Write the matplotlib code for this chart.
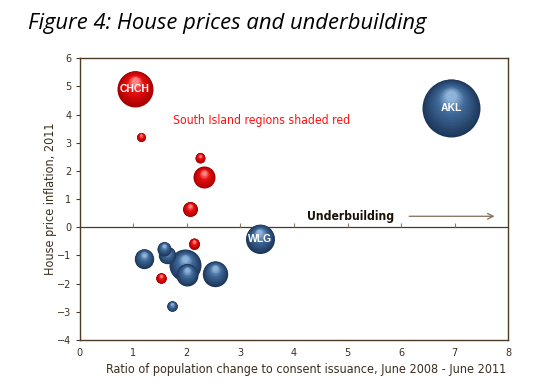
import numpy as np
import matplotlib
matplotlib.use('Agg')
import matplotlib.pyplot as plt
from matplotlib.colors import to_rgb
from matplotlib.transforms import ScaledTranslation

# === Data ===
# ratio of population change to consent issuance, house price inflation, bubble size (area)
north_x = [6.94, 3.36, 1.97, 2.53, 2.00, 1.20, 1.63, 1.58, 1.72]
north_y = [4.24, -0.40, -1.35, -1.64, -1.68, -1.11, -0.99, -0.76, -2.80]
north_size = [841, 210, 256, 161, 121, 94, 76, 49, 28]
north_label = ['AKL', 'WLG', '', '', '', '', '', '', '']

south_x = [1.03, 2.32, 2.06, 2.14, 1.51, 2.25, 1.14]
south_y = [4.92, 1.77, 0.65, -0.58, -1.80, 2.47, 3.20]
south_size = [324, 121, 56, 30, 28, 25, 20]
south_label = ['CHCH', '', '', '', '', '', '']

x_ticks = [0, 1, 2, 3, 4, 5, 6, 7, 8]
y_ticks = [-4, -3, -2, -1, 0, 1, 2, 3, 4, 5, 6]

AXIS_COL = '#4d3b26'
TEXT_COL = '#3a2e1e'
NARROW = dict(family='DejaVu Sans', stretch='condensed')

fig = plt.figure(figsize=(5.5, 3.9), dpi=100)
ax = fig.add_axes([0.145, 0.128, 0.779, 0.723])


def blend(c1, c2, t):
    a, b = np.array(to_rgb(c1)), np.array(to_rgb(c2))
    return tuple(a + (b - a) * t)


def sphere(ax, x, y, r_px, edge, mid, light, z):
    """Fake 3D bubble: stacked circles shrinking toward an upper highlight."""
    n = 22
    for i in range(n):
        t = i / (n - 1)
        rr = r_px * (1 - 0.82 * t)
        off = r_px * 0.42 * t
        if t < 0.65:
            c = blend(edge, mid, t / 0.65)
        else:
            c = blend(mid, light, (t - 0.65) / 0.35)
        tr = ax.transData + ScaledTranslation(-0.04 * off / fig.dpi, off / fig.dpi,
                                              fig.dpi_scale_trans)
        s = (2 * rr * 72 / fig.dpi) ** 2
        ax.scatter([x], [y], s=s, color=c, linewidths=0, transform=tr,
                   zorder=z + i * 0.001)


z = 3
for xs, ys, ss, lab, cols in [
    (north_x, north_y, north_size, north_label, ('#1d375a', '#416b9b', '#8fb2d8')),
    (south_x, south_y, south_size, south_label, ('#a80000', '#ea1010', '#ff8585')),
]:
    for x, y, s, name in zip(xs, ys, ss, lab):
        sphere(ax, x, y, np.sqrt(s), *cols, z)
        if name:
            ax.text(x, y, name, color='white', fontsize=7.5, fontweight='bold',
                    family='Liberation Sans', ha='center', va='center',
                    zorder=z + 0.5)
        z += 1

# zero line with upward tick marks (Excel style crossing axis)
ax.axhline(0, color=AXIS_COL, lw=0.9, zorder=2)
ax.plot(x_ticks[1:-1], [0] * (len(x_ticks) - 2), ls='none', marker=2,
        ms=3, color='#8a7a66', mew=0.8, zorder=2)

ax.set_xlim(0, 8)
ax.set_ylim(-4, 6)
ax.set_xticks(x_ticks)
ax.set_yticks(y_ticks)
ax.tick_params(axis='x', length=0, labelsize=7, colors=TEXT_COL, pad=6)
ax.tick_params(axis='y', length=3, width=0.8, labelsize=7, colors=TEXT_COL,
               color=AXIS_COL, pad=3)
for sp in ax.spines.values():
    sp.set_color(AXIS_COL)
    sp.set_linewidth(1)

ax.set_xlabel('Ratio of population change to consent issuance, June 2008 - June 2011',
              fontsize=9, color=TEXT_COL, **NARROW)
ax.xaxis.set_label_coords(0.528, -0.08)
ax.set_ylabel('House price inflation, 2011', fontsize=9,
              color=TEXT_COL, **NARROW)
ax.yaxis.set_label_coords(-0.052, 0.5)

ax.text(1.74, 3.8, 'South Island regions shaded red', color='#ff1010',
        fontsize=8.7, va='center', **NARROW)
ax.text(4.25, 0.39, 'Underbuilding', color='#1a1208', fontsize=8.7,
        fontweight='bold', va='center', **NARROW)
ax.annotate('', xy=(7.8, 0.39), xytext=(6.1, 0.39),
            arrowprops=dict(arrowstyle='->', color='#8a7a66', lw=1))

fig.text(0.051, 0.926, 'Figure 4: House prices and underbuilding',
         fontsize=15.8, style='italic', family=['Open Sans', 'DejaVu Sans'],
         color='black', va='baseline')

fig.savefig('out.png', dpi=100)
